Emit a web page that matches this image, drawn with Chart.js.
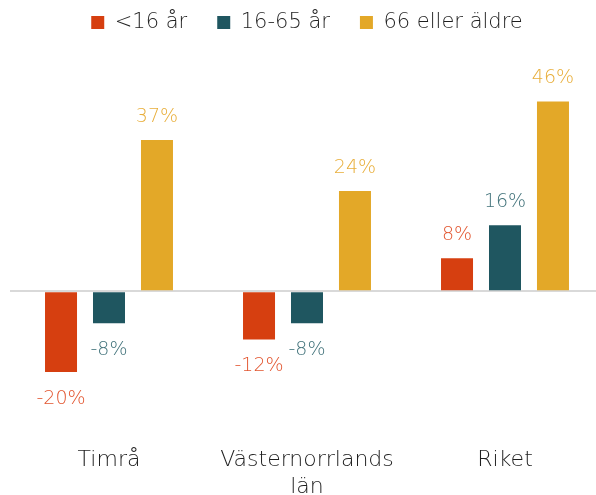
<!DOCTYPE html>
<html>
<head>
<meta charset="utf-8">
<script src="https://cdn.jsdelivr.net/npm/chart.js@4.4.1/dist/chart.umd.min.js"></script>
<style>
  html, body { margin: 0; padding: 0; background: #fff; overflow: hidden; }
  #wrap { width: 604px; height: 495px; }
</style>
</head>
<body>
<div id="wrap"><canvas id="myChart"></canvas></div>
<script>
// data (percent change)
const categories = ['Timrå', ['Västernorrlands', 'län'], 'Riket'];
const seriesNames = ['<16 år', '16-65 år', '66 eller äldre'];
const under16 = [-19.6, -11.7, 8];
const age16to65 = [-7.8, -7.8, 16];
const over66 = [36.7, 24.3, 46];

const barColors = ['#D63F10', '#1F5660', '#E3A828'];
const labelColors = ['#E2552F', '#41727A', '#E8AE3A'];
const fontFamily = "'DejaVu Sans', sans-serif";
const fontWeight = 200;

// draws the value labels above / below the bars
const valueLabels = {
  id: 'valueLabels',
  afterDatasetsDraw(chart) {
    const ctx = chart.ctx;
    ctx.save();
    ctx.font = fontWeight + ' 19px ' + fontFamily;
    ctx.textAlign = 'center';
    ctx.textBaseline = 'middle';
    chart.data.datasets.forEach((ds, i) => {
      const meta = chart.getDatasetMeta(i);
      meta.data.forEach((bar, j) => {
        const v = ds.data[j];
        ctx.fillStyle = labelColors[i];
        const y = v >= 0 ? bar.y - 23 : bar.y + 27;
        ctx.fillText(Math.round(v) + '%', bar.x, y);
      });
    });
    ctx.restore();
  }
};

const ctx = document.getElementById('myChart').getContext('2d');
const myChart = new Chart(ctx, {
  type: 'bar',
  data: {
    labels: categories,
    datasets: [
      { label: seriesNames[0], data: under16, backgroundColor: barColors[0] },
      { label: seriesNames[1], data: age16to65, backgroundColor: barColors[1] },
      { label: seriesNames[2], data: over66, backgroundColor: barColors[2] }
    ]
  },
  options: {
    responsive: true,
    maintainAspectRatio: false,
    animation: false,
    layout: { padding: { left: 10, right: 0, top: -18, bottom: -19 } },
    datasets: {
      bar: { categoryPercentage: 0.727, barPercentage: 0.667 }
    },
    plugins: {
      legend: {
        position: 'top',
        labels: {
          boxWidth: 13,
          boxHeight: 13,
          padding: 30,
          color: '#1e1e1e',
          font: { family: fontFamily, size: 21, weight: fontWeight }
        }
      },
      tooltip: { enabled: false }
    },
    scales: {
      x: {
        grid: { display: false },
        border: { display: false },
        ticks: {
          color: '#1e1e1e',
          padding: 14,
          maxRotation: 0,
          font: { family: fontFamily, size: 22, weight: fontWeight, lineHeight: 1.2 }
        }
      },
      y: {
        min: -32.5,
        max: 60.2,
        ticks: { display: false },
        border: { display: false },
        grid: {
          drawTicks: false,
          lineWidth: 2,
          color: (c) => c.tick && c.tick.value === 0 ? '#D9D9D9' : 'rgba(0,0,0,0)'
        }
      }
    }
  },
  plugins: [valueLabels]
});
</script>
</body>
</html>
